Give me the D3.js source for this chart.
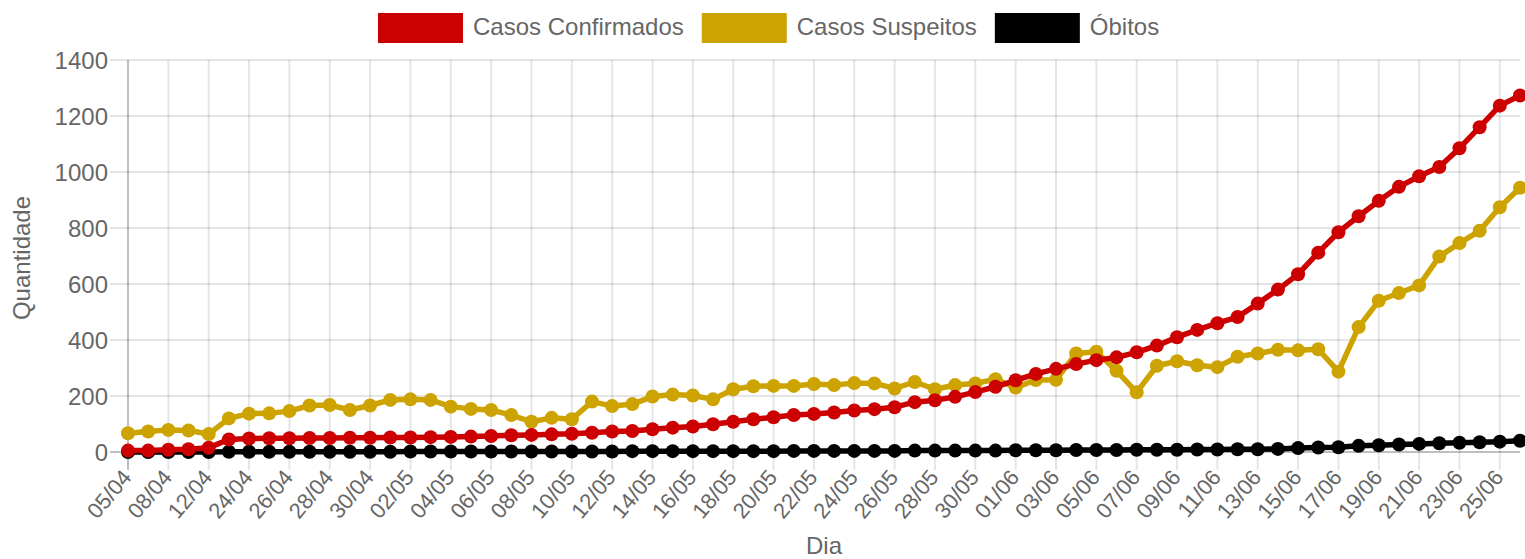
<!DOCTYPE html>
<html><head><meta charset="utf-8">
<script src="https://cdn.jsdelivr.net/npm/d3@7"></script>
<style>
body{margin:0;background:#fff}
svg{display:block}
text{font-family:"Liberation Sans",Arial,Helvetica,sans-serif;fill:#666}
</style>
</head><body>
<svg id="chart" width="1525" height="559"></svg>
<script>
const categories = [
"05/04","07/04","08/04","10/04","12/04","22/04",
"24/04","25/04","26/04","27/04","28/04","29/04","30/04",
"01/05","02/05","03/05","04/05","05/05","06/05","07/05","08/05","09/05","10/05",
"11/05","12/05","13/05","14/05","15/05","16/05","17/05","18/05","19/05","20/05",
"21/05","22/05","23/05","24/05","25/05","26/05","27/05","28/05","29/05","30/05","31/05",
"01/06","02/06","03/06","04/06","05/06","06/06","07/06","08/06","09/06","10/06",
"11/06","12/06","13/06","14/06","15/06","16/06","17/06","18/06","19/06","20/06",
"21/06","22/06","23/06","24/06","25/06","26/06"];

const confirmados = [5,5,8,10,15,45,48,49,49,50,50,51,51,52,52,53,54,55,57,60,61,63,65,69,73,75,81,87,91,99,
108,117,124,132,136,141,148,153,160,178,185,197,214,233,256,279,297,314,328,338,356,380,410,436,460,482,
530,580,635,712,785,842,897,947,985,1018,1085,1160,1237,1273];

const suspeitos = [67,73,79,77,64,120,137,138,146,166,168,150,166,186,188,186,162,154,150,132,108,122,117,180,
164,171,198,205,202,188,224,235,236,236,243,239,246,245,227,250,224,239,245,260,230,257,258,352,358,290,
213,308,324,310,303,340,352,365,363,367,287,446,540,568,595,698,746,790,874,944];

const obitos = [0,0,0,0,0,1,1,1,1,1,1,1,1,1,2,2,2,2,2,2,2,2,2,2,2,3,3,3,3,3,3,3,3,4,4,4,4,4,4,5,5,5,5,5,
6,6,6,7,7,7,8,8,8,9,9,10,10,11,14,16,17,22,24,27,29,31,33,35,37,40];

const yTicks = [0,200,400,600,800,1000,1200,1400];
const seriesNames = ["Casos Confirmados","Casos Suspeitos","Óbitos"];
const seriesColors = ["#cc0000","#cca300","#000000"];
const seriesData = [confirmados, suspeitos, obitos];

const svg = d3.select("#chart");
const L = 128, R = 1520, T = 60, B = 452;
const x = d3.scalePoint().domain(categories).range([L, R]);
const y = d3.scaleLinear().domain([0, 1400]).range([B, T]);

const xTickVals = categories.filter((d, i) => i % 2 === 0);

const g = svg.append("g");
g.selectAll("line.hg").data(yTicks).enter().append("line")
  .attr("x1", L - 18).attr("x2", R)
  .attr("y1", d => y(d)).attr("y2", d => y(d))
  .attr("stroke", d => d === 0 ? "rgba(0,0,0,0.25)" : "rgba(0,0,0,0.1)")
  .attr("stroke-width", 2);
g.selectAll("line.vg").data(xTickVals).enter().append("line")
  .attr("x1", d => x(d)).attr("x2", d => x(d))
  .attr("y1", T).attr("y2", B + 18)
  .attr("stroke", (d, i) => i === 0 ? "rgba(0,0,0,0.25)" : "rgba(0,0,0,0.1)")
  .attr("stroke-width", 2);

g.selectAll("text.yl").data(yTicks).enter().append("text")
  .attr("x", L - 20).attr("y", d => y(d))
  .attr("text-anchor", "end").attr("dominant-baseline", "central")
  .style("font-size", "24px").text(d => d);

g.selectAll("text.xl").data(xTickVals).enter().append("text")
  .attr("transform", d => `translate(${x(d) - 1},473) rotate(-50)`)
  .attr("text-anchor", "end").attr("dominant-baseline", "central")
  .style("font-size", "22px").text(d => d);

svg.append("text").attr("x", (L + R) / 2).attr("y", 554)
  .attr("text-anchor", "middle").style("font-size", "24px").text("Dia");
svg.append("text").attr("transform", `translate(30,${(T + B) / 2 + 2}) rotate(-90)`)
  .attr("text-anchor", "middle").style("font-size", "24px").text("Quantidade");

const line = d3.line().x((d, i) => x(categories[i])).y(d => y(d));
for (let s = seriesData.length - 1; s >= 0; s--) {
  const sg = svg.append("g");
  sg.append("path").datum(seriesData[s])
    .attr("d", line).attr("fill", "none")
    .attr("stroke", seriesColors[s]).attr("stroke-width", 5.5)
    .attr("stroke-linejoin", "round");
  sg.selectAll("circle").data(seriesData[s]).enter().append("circle")
    .attr("cx", (d, i) => x(categories[i])).attr("cy", d => y(d))
    .attr("r", 7).attr("fill", seriesColors[s]);
}

let lx = 378;
seriesNames.forEach((name, i) => {
  svg.append("rect").attr("x", lx).attr("y", 13).attr("width", 85).attr("height", 30)
    .attr("fill", seriesColors[i]);
  const t = svg.append("text").attr("x", lx + 95).attr("y", 34.5)
    .style("font-size", "24px").text(name);
  lx = lx + 95 + t.node().getComputedTextLength() + 18;
});
</script>
</body></html>
